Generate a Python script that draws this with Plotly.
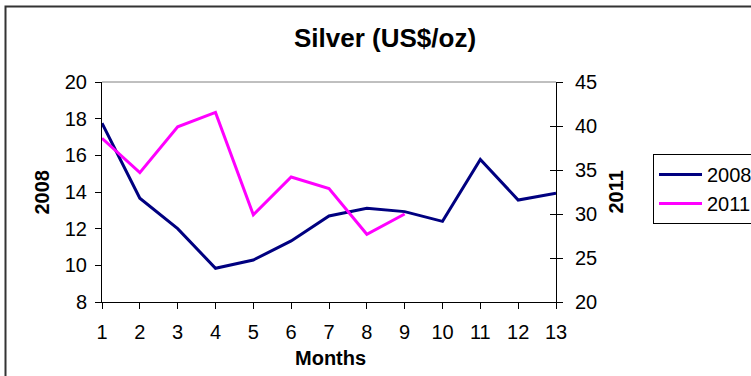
import plotly.graph_objects as go

months = list(range(1, 14))
silver_2008 = [17.75, 13.66, 12.0, 9.84, 10.29, 11.33, 12.69, 13.11, 12.93, 12.4, 15.78, 13.56, 13.93]
months_2011 = list(range(1, 10))
silver_2011 = [38.6, 34.7, 39.9, 41.55, 29.9, 34.2, 32.9, 27.7, 30.0]

title_text = "Silver (US$/oz)"
x_title = "Months"
y_left_title = "2008"
y_right_title = "2011"

FONT = "Arial, 'Liberation Sans', sans-serif"

# plot area in pixels
L, R, T, B = 102, 556, 82, 302
W, H = 751, 376
pw, ph = R - L, B - T

def px(x):
    return (x - L) / pw

def py(y):
    return (B - y) / ph

fig = go.Figure()
fig.add_trace(go.Scatter(x=months, y=silver_2008, name="2008", mode="lines",
                         line=dict(color="#000080", width=3), yaxis="y"))
fig.add_trace(go.Scatter(x=months_2011, y=silver_2011, name="2011", mode="lines",
                         line=dict(color="#FF00FF", width=3), yaxis="y2"))

TF = 20
axis_common = dict(showgrid=False, zeroline=False, linecolor="black", linewidth=1,
                   tickcolor="black", ticklen=6, tickwidth=1, automargin=False,
                   tickfont=dict(family=FONT, size=TF, color="black"))

fig.update_layout(
    width=W, height=H,
    margin=dict(l=L, r=W - R, t=T, b=H - B, pad=0, autoexpand=False),
    paper_bgcolor="white", plot_bgcolor="white",
    font=dict(family=FONT, size=TF, color="black"),
    xaxis=dict(range=[1, 13], tickmode="array", tickvals=months, ticks="outside",
               showline=True, ticklabelstandoff=6, **axis_common),
    yaxis=dict(range=[8, 20], dtick=2, tick0=8, ticks="outside", showline=True,
               side="left", ticklabelstandoff=4, **axis_common),
    yaxis2=dict(range=[20, 45], dtick=5, tick0=20, ticks="outside", showline=True,
                side="right", overlaying="y", ticklabelstandoff=8, **axis_common),
    yaxis3=dict(range=[20, 45], dtick=5, tick0=20, ticks="inside", showline=False,
                showticklabels=False, side="right", overlaying="y", automargin=False,
                showgrid=False, zeroline=False, tickcolor="black", ticklen=6, tickwidth=1),
    showlegend=True,
    legend=dict(x=px(653), y=py(154), xanchor="left", yanchor="top",
                bordercolor="black", borderwidth=1, bgcolor="white",
                font=dict(family=FONT, size=TF, color="black"),
                tracegroupgap=0, itemwidth=43),
    shapes=[
        dict(type="rect", xref="paper", yref="paper", x0=px(5.5), x1=px(W + 20),
             y0=py(H + 20), y1=py(6.5), line=dict(color="#333333", width=2), layer="above"),
        dict(type="line", xref="paper", yref="paper", x0=0, x1=1, y0=1, y1=1,
             line=dict(color="#808080", width=1)),
    ],
    annotations=[
        dict(text="<b>" + title_text + "</b>", xref="paper", yref="paper",
             x=px(385), y=py(38), xanchor="center", yanchor="middle", showarrow=False,
             font=dict(family=FONT, size=26, color="black")),
        dict(text="<b>" + x_title + "</b>", xref="paper", yref="paper",
             x=px(330), y=py(358), xanchor="center", yanchor="middle", showarrow=False,
             font=dict(family=FONT, size=20, color="black")),
        dict(text="<b>" + y_left_title + "</b>", xref="paper", yref="paper",
             x=px(41.5), y=py(192), xanchor="center", yanchor="middle", showarrow=False,
             textangle=-90, font=dict(family=FONT, size=20, color="black")),
        dict(text="<b>" + y_right_title + "</b>", xref="paper", yref="paper",
             x=px(615), y=py(192.5), xanchor="center", yanchor="middle", showarrow=False,
             textangle=-90, font=dict(family=FONT, size=20, color="black")),
    ],
)

fig.add_trace(go.Scatter(x=[1], y=[20], yaxis="y3", mode="markers",
                         marker=dict(opacity=0), showlegend=False, hoverinfo="skip"))

fig.write_html("out.html")
